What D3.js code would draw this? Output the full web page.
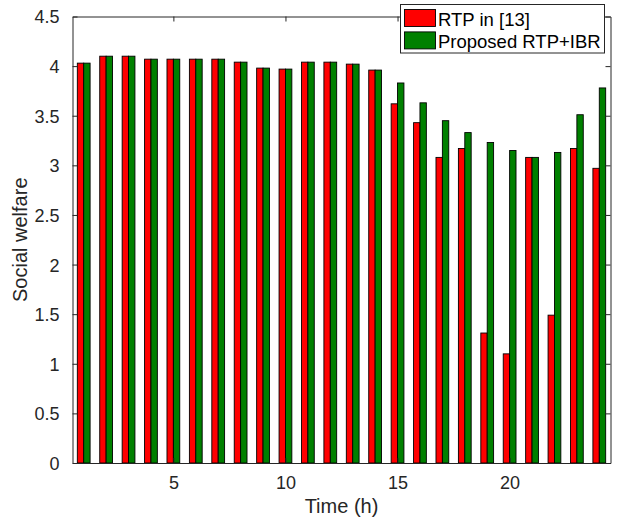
<!DOCTYPE html>
<html>
<head>
<meta charset="utf-8">
<script src="https://cdn.jsdelivr.net/npm/d3@7"></script>
<style>
  html, body { margin: 0; padding: 0; background: #fff; }
  svg { display: block; font-family: "Liberation Sans", Arial, Helvetica, sans-serif; }
</style>
</head>
<body>
<svg id="chart" width="618" height="520"></svg>
<script>
const hours = d3.range(1, 25);
const rtp13 = [4.03, 4.10, 4.10, 4.07, 4.07, 4.07, 4.07, 4.04, 3.98, 3.97, 4.04, 4.04,
               4.02, 3.96, 3.62, 3.43, 3.08, 3.17, 1.31, 1.10, 3.08, 1.49, 3.17, 2.97];
const proposed = [4.03, 4.10, 4.10, 4.07, 4.07, 4.07, 4.07, 4.04, 3.98, 3.97, 4.04, 4.04,
                  4.02, 3.96, 3.83, 3.63, 3.45, 3.33, 3.23, 3.15, 3.08, 3.13, 3.51, 3.78];
const seriesNames = ["RTP in [13]", "Proposed RTP+IBR"];
const seriesColors = ["#ff0000", "#008000"];
const xTicks = [5, 10, 15, 20];
const yTicks = [0, 0.5, 1, 1.5, 2, 2.5, 3, 3.5, 4, 4.5];

(function () {
const svg = d3.select("#chart");
const L = 72.5, R = 610.5, T = 16.5, B = 463;
const x = d3.scaleLinear().domain([0.5, 24.5]).range([L, R]);
const y = d3.scaleLinear().domain([0, 4.5]).range([B, T]);
const axisColor = "#262626";
const bw = 0.285;

const series = [rtp13, proposed];
const g = svg.append("g");
series.forEach((vals, si) => {
  g.selectAll(null).data(hours).enter().append("rect")
    .attr("x", d => si === 0 ? x(d - bw) : x(d))
    .attr("width", x(bw) - x(0))
    .attr("y", (d, i) => y(vals[i]))
    .attr("height", (d, i) => y(0) - y(vals[i]))
    .attr("fill", seriesColors[si])
    .attr("stroke", "#000")
    .attr("stroke-width", 0.9);
});

const tl = 5;
const fontTick = 18;
const axB = svg.append("g").attr("transform", `translate(0,${B})`)
  .call(d3.axisBottom(x).tickValues(xTicks).tickSizeInner(-tl).tickSizeOuter(0).tickPadding(13));
const axT = svg.append("g").attr("transform", `translate(0,${T})`)
  .call(d3.axisTop(x).tickValues(xTicks).tickSizeInner(-tl).tickSizeOuter(0).tickFormat(""));
const axL = svg.append("g").attr("transform", `translate(${L},0)`)
  .call(d3.axisLeft(y).tickValues(yTicks).tickSizeInner(-tl).tickSizeOuter(0).tickPadding(13)
    .tickFormat(d => d3.format("")(d)));
const axR = svg.append("g").attr("transform", `translate(${R},0)`)
  .call(d3.axisRight(y).tickValues(yTicks).tickSizeInner(-tl).tickSizeOuter(0).tickFormat(""));

[axB, axT, axL, axR].forEach(a => {
  a.select(".domain").attr("stroke", axisColor).attr("stroke-width", 1);
  a.selectAll(".tick line").attr("stroke", axisColor).attr("stroke-width", 1);
  a.selectAll(".tick text").attr("fill", axisColor).attr("font-size", fontTick)
    .attr("font-family", "Liberation Sans, Arial, sans-serif");
});
axL.selectAll(".tick text").attr("dy", "0.36em");

svg.append("text").attr("x", (L + R) / 2).attr("y", 513)
  .attr("text-anchor", "middle").attr("font-size", 20).attr("fill", axisColor)
  .text("Time (h)");
svg.append("text").attr("transform", `translate(27,${(T + B) / 2}) rotate(-90)`)
  .attr("text-anchor", "middle").attr("font-size", 20).attr("fill", axisColor)
  .text("Social welfare");

const lg = svg.append("g");
lg.append("rect").attr("x", 400.5).attr("y", 4.5).attr("width", 204).attr("height", 48.5)
  .attr("fill", "#fff").attr("stroke", axisColor).attr("stroke-width", 1);
seriesNames.forEach((name, i) => {
  const yy = 9.5 + i * 22.4;
  lg.append("rect").attr("x", 404.5).attr("y", yy).attr("width", 31).attr("height", 17)
    .attr("fill", seriesColors[i]).attr("stroke", "#000").attr("stroke-width", 0.9);
  lg.append("text").attr("x", 438).attr("y", yy + 16.3)
    .attr("font-size", 18.5).attr("fill", "#000").text(name);
});
})();
</script>
</body>
</html>
